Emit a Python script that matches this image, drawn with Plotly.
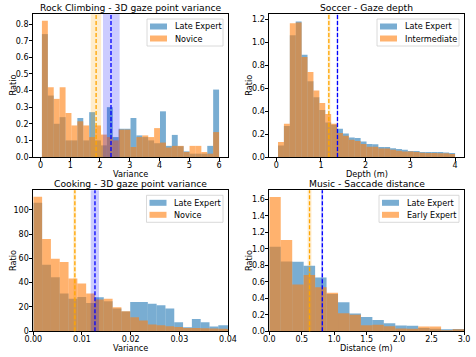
import numpy as np
import plotly.graph_objects as go

W, H = 476, 357
FONT = "DejaVu Sans"

# ---------------- data ----------------
# Rock Climbing - 3D gaze point variance (30 bins)
rc_range = (0.05, 6.0)
rc_late = [0.74, 0.37, 0.20, 0.24, 0.10, 0.10, 0.235, 0.10, 0.27, 0.10,
           0.07, 0.30, 0.12, 0.17, 0.17, 0.235, 0.13, 0.12, 0.10, 0.083,
           0.275, 0.067, 0.133, 0.065, 0.034, 0.02, 0.02, 0.02, 0.067, 0.406]
rc_novice = [0.82, 0.42, 0.35, 0.42, 0.265, 0.19, 0.215, 0.19, 0.12, 0.19,
             0.135, 0.12, 0.10, 0.165, 0.165, 0.06, 0.12, 0.13, 0.12, 0.174,
             0.087, 0.057, 0.067, 0.067, 0.03, 0.067, 0.067, 0.03, 0.02, 0.15]
rc_mean_late, rc_band_late = 2.37, (2.10, 2.66)
rc_mean_nov, rc_band_nov = 1.87, (1.69, 2.04)

# Soccer - Gaze depth (30 bins)
sc_range = (0.04, 4.0)
sc_late = [0.10, 0.27, 1.06, 1.18, 0.89, 0.66, 0.52, 0.41, 0.30, 0.28,
           0.245, 0.205, 0.17, 0.165, 0.134, 0.114, 0.11, 0.088, 0.088, 0.076,
           0.07, 0.064, 0.053, 0.053, 0.044, 0.044, 0.044, 0.044, 0.04, 0.035]
sc_inter = [0.13, 0.29, 1.165, 1.17, 0.87, 0.74, 0.58, 0.47, 0.375, 0.29,
            0.21, 0.185, 0.15, 0.14, 0.114, 0.09, 0.09, 0.073, 0.073, 0.064,
            0.055, 0.047, 0.047, 0.044, 0.038, 0.035, 0.035, 0.032, 0.032, 0.026]
sc_mean_late, sc_band_late = 1.37, (1.355, 1.385)
sc_mean_int, sc_band_int = 1.177, (1.15, 1.21)

# Cooking - 3D gaze point variance (bins of width 0.00181 starting at 0)
ck_start, ck_width = 0.0, 0.00181
ck_late = [105.8, 54.8, 44.4, 31.0, 26.8, 28.2, 23.3, 27.9, 24.7, 18.6,
           16.3, 24.1, 24.1, 22.5, 21.4, 18.6, 7.4, 3.3, 10.1, 7.4,
           3.8, 4.9, 4.9]
ck_novice = [110.7, 76.0, 59.7, 57.0, 43.3, 39.2, 31.0, 26.0, 26.8, 19.7,
             16.5, 11.5, 8.8, 5.5, 5.0, 4.1, 3.5, 2.7, 2.7, 2.5,
             2.2, 2.0, 1.8]
ck_mean_late, ck_band_late = 0.01267, (0.0118, 0.0135)
ck_mean_nov, ck_band_nov = 0.00854, (0.0082, 0.0088)

# Music - Saccade distance (17 bins over 0..3)
mu_range = (0.0, 3.0)
mu_late = [1.024, 0.846, 0.842, 0.794, 0.653, 0.451, 0.351, 0.214, 0.173,
           0.137, 0.097, 0.069, 0.065, 0.04, 0.03, 0.015, 0.028]
mu_early = [1.628, 1.108, 0.567, 0.681, 0.532, 0.468, 0.218, 0.20, 0.073,
            0.077, 0.06, 0.032, 0.03, 0.056, 0.056, 0.008, 0.016]
mu_mean_late, mu_band_late = 0.817, (0.80, 0.83)
mu_mean_early, mu_band_early = 0.62, (0.59, 0.65)


def edges_from_range(rng, n):
    return np.linspace(rng[0], rng[1], n + 1)


def edges_from_width(start, width, n):
    return start + width * np.arange(n + 1)


panels = [
    dict(title="Rock Climbing - 3D gaze point variance", xlabel="Variance",
         edges=edges_from_range(rc_range, len(rc_late)),
         a=rc_late, b=rc_novice, la="Late Expert", lb="Novice",
         ma=rc_mean_late, ba=rc_band_late, mb=rc_mean_nov, bb=rc_band_nov,
         xr=[-0.25, 6.3], yr=[0, 0.861], xd=1, yd=0.1, xf="d", yf=".1f",
         px=(33, 228), py=(14, 157), legw=76),
    dict(title="Soccer - Gaze depth", xlabel="Depth (m)",
         edges=edges_from_range(sc_range, len(sc_late)),
         a=sc_late, b=sc_inter, la="Late Expert", lb="Intermediate",
         ma=sc_mean_late, ba=sc_band_late, mb=sc_mean_int, bb=sc_band_int,
         xr=[-0.155, 4.2], yr=[0, 1.245], xd=1, yd=0.2, xf="d", yf=".1f",
         px=(269.3, 464), py=(14, 157), legw=82),
    dict(title="Cooking - 3D gaze point variance", xlabel="Variance",
         edges=edges_from_width(ck_start, ck_width, len(ck_late)),
         a=ck_late, b=ck_novice, la="Late Expert", lb="Novice",
         ma=ck_mean_late, ba=ck_band_late, mb=ck_mean_nov, bb=ck_band_nov,
         xr=[0, 0.04], yr=[0, 116], xd=0.01, yd=20, xf=".2f", yf="d",
         px=(33.3, 228), py=(190.3, 331.2), legw=76.5),
    dict(title="Music - Saccade distance", xlabel="Distance (m)",
         edges=edges_from_range(mu_range, len(mu_late)),
         a=mu_late, b=mu_early, la="Late Expert", lb="Early Expert",
         ma=mu_mean_late, ba=mu_band_late, mb=mu_mean_early, bb=mu_band_early,
         xr=[0, 3.0], yr=[0, 1.71], xd=0.5, yd=0.2, xf=".1f", yf=".1f",
         px=(269.3, 464), py=(190.3, 331.2), legw=80),
]

BLUE = "#1f77b4"
ORANGE = "#ff7f0e"

fig = go.Figure()
shapes = []
annotations = []
layout = dict(
    template="none",
    width=W, height=H, margin=dict(l=0, r=0, t=0, b=0, pad=0, autoexpand=False),
    paper_bgcolor="white", plot_bgcolor="white",
    barmode="overlay", showlegend=False,
    font=dict(family=FONT, size=8, color="black"),
)


def px2x(v):
    return v / W


def px2y(v):
    return 1 - v / H


for i, p in enumerate(panels):
    n = i + 1
    xa = "x" if n == 1 else f"x{n}"
    ya = "y" if n == 1 else f"y{n}"
    e = np.asarray(p["edges"])
    centers = (e[:-1] + e[1:]) / 2
    width = e[1:] - e[:-1]
    fig.add_trace(go.Bar(x=centers, y=p["a"], width=width, xaxis=xa, yaxis=ya,
                         marker=dict(color=BLUE, opacity=0.6, line=dict(width=0)),
                         name=p["la"], hoverinfo="skip"))
    fig.add_trace(go.Bar(x=centers, y=p["b"], width=width, xaxis=xa, yaxis=ya,
                         marker=dict(color=ORANGE, opacity=0.6, line=dict(width=0)),
                         name=p["lb"], hoverinfo="skip"))

    axkey_x = "xaxis" if n == 1 else f"xaxis{n}"
    axkey_y = "yaxis" if n == 1 else f"yaxis{n}"
    common = dict(showline=True, mirror=True, linecolor="black", linewidth=0.8,
                  ticks="outside", ticklen=3, tickwidth=0.8, tickcolor="black",
                  showgrid=False, zeroline=False, automargin=False,
                  tickfont=dict(family=FONT, size=8, color="black"))
    layout[axkey_x] = dict(common, domain=[px2x(p["px"][0]), px2x(p["px"][1])],
                           range=p["xr"], dtick=p["xd"], tick0=0, tickformat=p["xf"],
                           anchor=ya, ticklabelstandoff=-3)
    layout[axkey_y] = dict(common, domain=[px2y(p["py"][1]), px2y(p["py"][0])],
                           range=p["yr"], dtick=p["yd"], tick0=0, tickformat=p["yf"],
                           anchor=xa, ticklabelstandoff=-1)

    xr = f"{xa} domain"
    yr = f"{ya} domain"
    # shaded std bands and dashed mean lines
    for band, fill in [(p["ba"], "rgba(0,0,255,0.2)"), (p["bb"], "rgba(255,165,0,0.2)")]:
        shapes.append(dict(type="rect", xref=xa, yref=yr, x0=band[0], x1=band[1],
                           y0=0, y1=1, fillcolor=fill, line=dict(width=0), layer="above"))
    for mean, col in [(p["ma"], "blue"), (p["mb"], "orange")]:
        shapes.append(dict(type="line", xref=xa, yref=yr, x0=mean, x1=mean, y0=0, y1=1,
                           line=dict(color=col, width=1.3, dash="4px,2px"), layer="above"))

    # title
    annotations.append(dict(text=p["title"], xref="paper", yref="paper",
                            x=px2x((p["px"][0] + p["px"][1]) / 2), y=px2y(p["py"][0] - 7),
                            xanchor="center", yanchor="middle", showarrow=False,
                            font=dict(family=FONT, size=9.2, color="black")))
    # axis titles
    annotations.append(dict(text=p["xlabel"], xref="paper", yref="paper",
                            x=px2x((p["px"][0] + p["px"][1]) / 2), y=px2y(p["py"][1] + 16.8),
                            xanchor="center", yanchor="middle", showarrow=False,
                            font=dict(family=FONT, size=8.2, color="black")))
    annotations.append(dict(text="Ratio", xref="paper", yref="paper",
                            x=px2x(p["px"][0] - 21), y=px2y((p["py"][0] + p["py"][1]) / 2),
                            xanchor="center", yanchor="middle", showarrow=False, textangle=-90,
                            font=dict(family=FONT, size=8.2, color="black")))

    # legend (matplotlib-style, upper right)
    right = p["px"][1] - 5
    top = p["py"][0] + 5
    left = right - p["legw"]
    bottom = top + 27
    shapes.append(dict(type="rect", xref="paper", yref="paper",
                       x0=px2x(left), x1=px2x(right), y0=px2y(bottom), y1=px2y(top),
                       fillcolor="rgba(255,255,255,0.8)",
                       line=dict(color="#d0d0d0", width=0.8), layer="above"))
    for k, (lab, col) in enumerate([(p["la"], BLUE), (p["lb"], ORANGE)]):
        cy = top + 7.5 + 12 * k
        shapes.append(dict(type="rect", xref="paper", yref="paper",
                           x0=px2x(left + 3), x1=px2x(left + 20),
                           y0=px2y(cy + 3), y1=px2y(cy - 3),
                           fillcolor=col, opacity=0.6, line=dict(width=0), layer="above"))
        annotations.append(dict(text=lab, xref="paper", yref="paper",
                                x=px2x(left + 25.5), y=px2y(cy), xanchor="left",
                                yanchor="middle", showarrow=False,
                                font=dict(family=FONT, size=8.1, color="black")))

layout["shapes"] = shapes
layout["annotations"] = annotations
fig.update_layout(**layout)
fig.write_html("out.html")
